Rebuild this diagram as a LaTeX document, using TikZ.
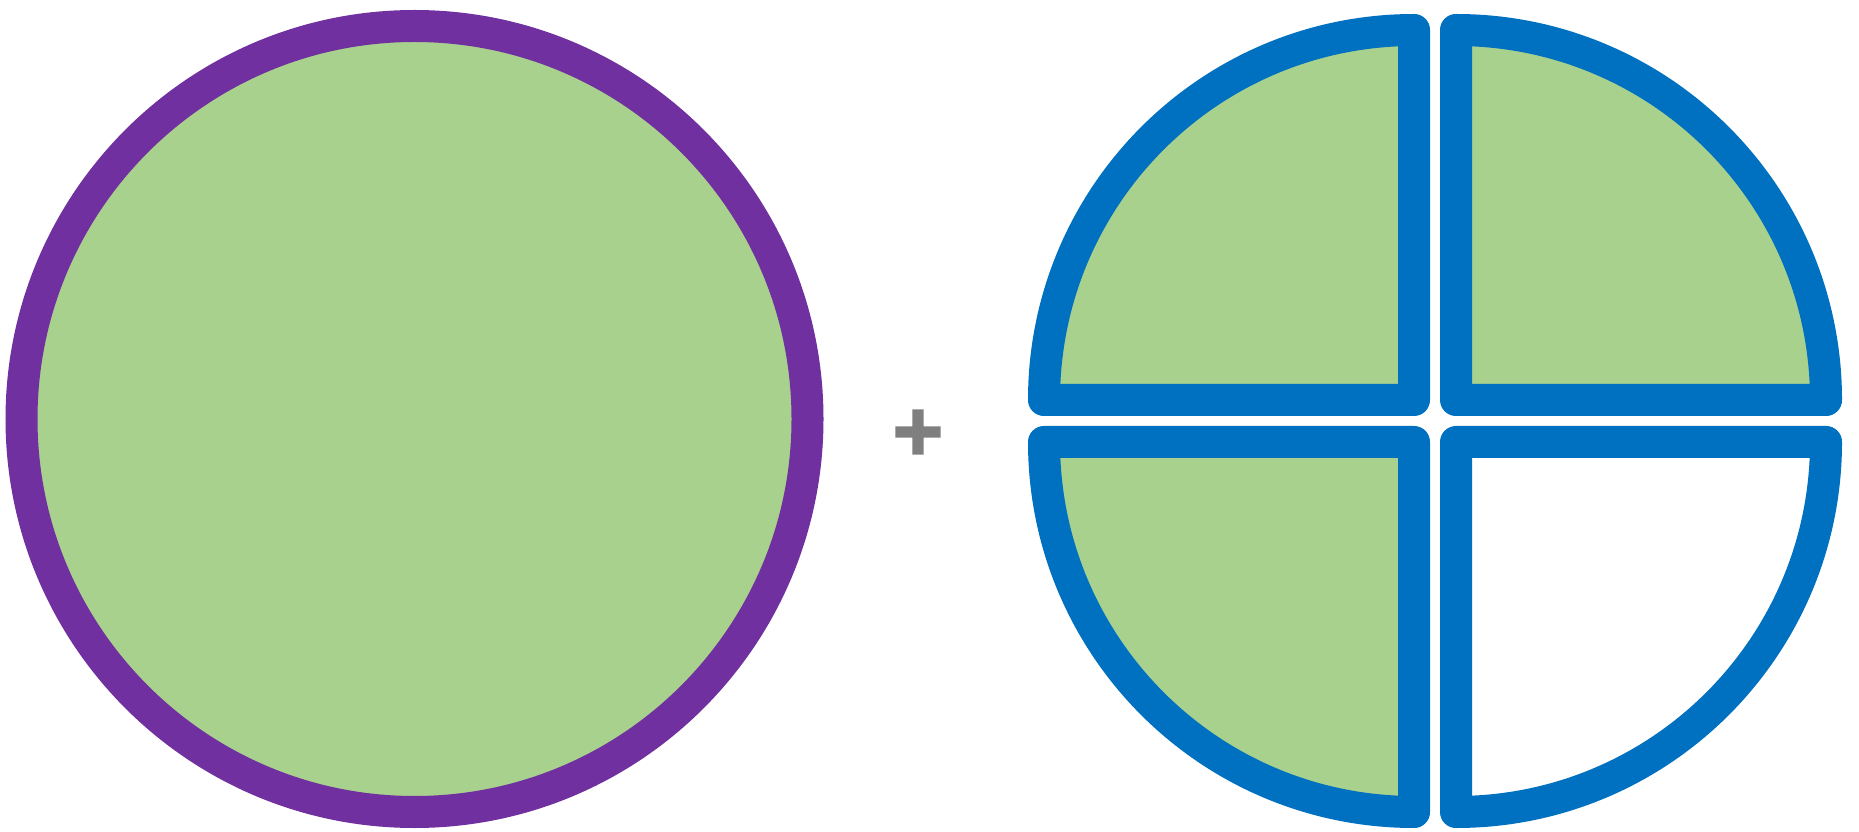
\documentclass[tikz,border=0pt]{standalone}
\usepackage{fontspec}
\usepackage{tikz}
\usepackage{xcolor}
\usetikzlibrary{positioning,calc}
\newfontfamily\plusfont{DejaVu Sans Bold}[FakeBold=5]
\definecolor{wholepurple}{HTML}{7030A0}
\definecolor{partgreen}{HTML}{A9D18E}
\definecolor{partblue}{HTML}{0070C0}
\definecolor{signgray}{HTML}{7F7F7F}
\tikzset{
  wholecirc/.style={circle, draw=wholepurple, fill=partgreen, line width=0.32cm, minimum size=7.86cm, inner sep=0pt},
  quarterpart/.style={draw=partblue, line width=0.32cm, line join=round}
}

\begin{document}
\begin{tikzpicture}
\useasboundingbox (0,0) rectangle (18.59,8.31);
\node[wholecirc] (whole) at (4.145,4.12) {};
\node[text=signgray, font=\plusfont\fontsize{19}{19}\selectfont, inner sep=0pt] (plus) at (9.18,3.99) {+};
\coordinate (qcenter) at (14.35,4.10);
\foreach \a/\col in {0/partgreen,90/partgreen,180/partgreen,270/white} {
    \draw[quarterpart, fill=\col, shift={($(qcenter)+(\a+45:0.297)$)}, rotate=\a]
        (0,0) -- (3.70,0) arc (0:90:3.70) -- cycle;
}
\end{tikzpicture}
\end{document}
